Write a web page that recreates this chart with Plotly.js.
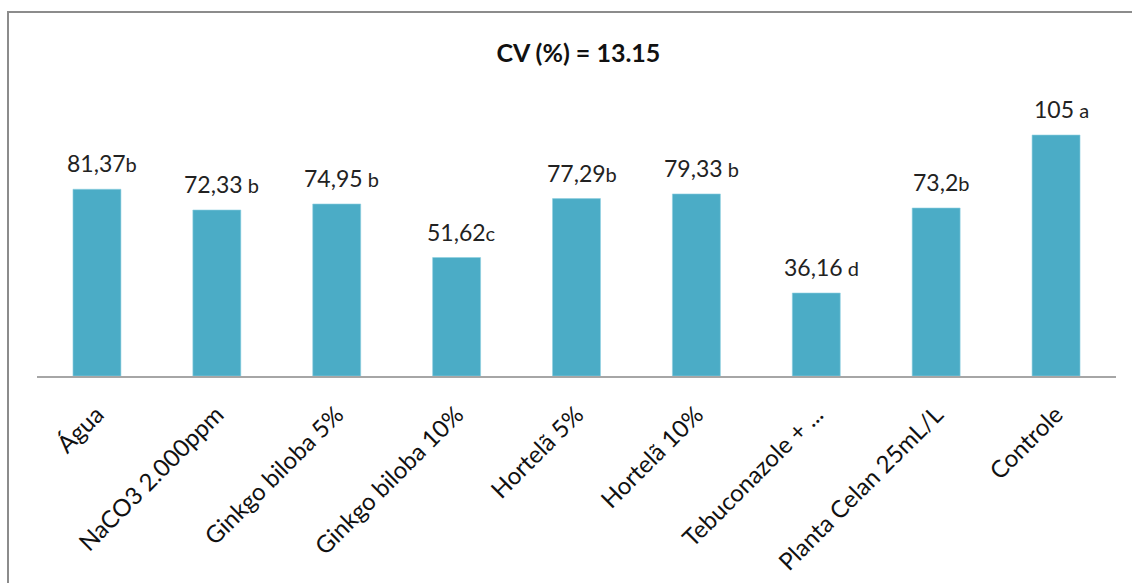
<!DOCTYPE html>
<html>
<head>
<meta charset="utf-8">
<script src="https://cdn.plot.ly/plotly-3.0.1.min.js"></script>
<style>
html,body{margin:0;padding:0;background:#fff;overflow:hidden;}
#chart{width:1132px;height:583px;position:absolute;left:0;top:0;}
#frame{position:absolute;left:7px;top:11px;width:1300px;height:800px;border:2px solid #8c8c8c;pointer-events:none;}
</style>
</head>
<body>
<div id="chart"></div>
<div id="frame"></div>
<script>
const categories = ["Água","NaCO3 2.000ppm","Ginkgo biloba 5%","Ginkgo biloba 10%","Hortelã 5%","Hortelã 10%","Tebuconazole + ...","Planta Celan 25mL/L","Controle"];
const values = [81.37,72.33,74.95,51.62,77.29,79.33,36.16,73.2,105];
const valueLabels = ["81,37","72,33","74,95","51,62","77,29","79,33","36,16","73,2","105"];
const letters = ["b"," b"," b","c","b"," b"," d","b"," a"];
const titleText = "CV (%) = 13.15";

const font = "Lato, 'Open Sans', sans-serif";

const trace = {
  type: "bar",
  x: categories,
  y: values,
  marker: {color: "#4BACC6", line: {color: "#8FD0E0", width: 0.6}},
  hoverinfo: "none",
  showlegend: false
};

const annotations = categories.map((c, i) => ({
  x: c, y: values[i], xref: "x", yref: "y",
  text: valueLabels[i] + "<span style='font-size:20px'>" + letters[i] + "</span>",
  showarrow: false, yanchor: "bottom", xanchor: "center",
  yshift: 10, xshift: 5,
  font: {family: font, size: 23, color: "#222"}
}));

const layout = {
  width: 1132, height: 583,
  margin: {l: 37, r: 16, t: 99, b: 207},
  paper_bgcolor: "#ffffff", plot_bgcolor: "#ffffff",
  bargap: 0.6,
  title: {text: "<b>" + titleText + "</b>", x: 0.511, xanchor: "center", y: 0.909, yanchor: "middle",
          font: {family: font, size: 25, color: "#111"}},
  xaxis: {
    type: "category", tickangle: -45, showline: true, linecolor: "#A6A6A6", linewidth: 2,
    ticks: "", showgrid: false, zeroline: false, ticklabelstandoff: 13,
    tickfont: {family: font, size: 24, color: "#111"}, automargin: false
  },
  yaxis: {range: [0, 120.7], visible: false, showgrid: false, zeroline: false, fixedrange: true},
  annotations: annotations
};

Plotly.newPlot("chart", [trace], layout, {staticPlot: true, displayModeBar: false});
</script>
</body>
</html>
